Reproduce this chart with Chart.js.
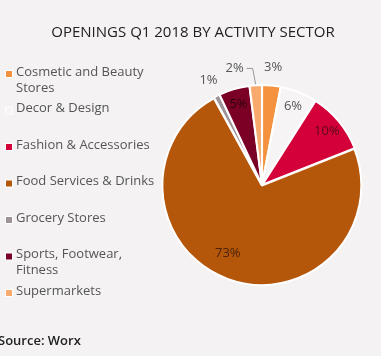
<!DOCTYPE html>
<html><head><meta charset="utf-8">
<script src="https://cdn.jsdelivr.net/npm/chart.js@4.4.1/dist/chart.umd.min.js"></script>
<style>
html,body{margin:0;padding:0;background:#f4f2f3;}
#wrap{position:relative;width:381px;height:356px;}
</style></head>
<body><div id="wrap"><canvas id="c" width="381" height="356"></canvas></div>
<script>
const categories = [["Cosmetic and Beauty","Stores"],["Decor & Design"],["Fashion & Accessories"],["Food Services & Drinks"],["Grocery Stores"],["Sports, Footwear,","Fitness"],["Supermarkets"]];
const values = [3, 6, 10, 73, 1, 5, 2];
const pctLabels = ["3%","6%","10%","73%","1%","5%","2%"];
const colors = ["#f5923f","#f6f4f5","#d3003a","#b5570a","#9d9398","#7a0026","#f8a96c"];
const labelColors = ["#555","#555","#5a0a1c","#4a2208","#555","#2e000c","#555"];
const titleText = "OPENINGS Q1 2018 BY ACTIVITY SECTOR";
const sourceText = "Source: Worx";
const FONT = "'Open Sans', sans-serif";

const overlay = {
  id:'overlay',
  afterDraw(chart){
    const ctx = chart.ctx;
    ctx.save();
    ctx.fillStyle = "#222";
    ctx.font = "15px " + FONT;
    ctx.textAlign = "center"; ctx.textBaseline = "middle";
    ctx.fillText(titleText, 193, 33);
    ctx.textAlign = "left";
    ctx.font = "600 13px " + FONT;
    ctx.fillStyle = "#222";
    ctx.fillText(sourceText, -2, 341);
    ctx.font = "13px " + FONT;
    categories.forEach((lines, i) => {
      const y = 72 + i * 36.5;
      ctx.fillStyle = "#ffffff";
      ctx.fillRect(5, y - 2, 8, 8);
      ctx.fillStyle = colors[i];
      ctx.fillRect(6, y - 1, 6, 6);
      ctx.fillStyle = "#555";
      lines.forEach((t, j) => ctx.fillText(t, 16, y + j * 16));
    });
    const meta = chart.getDatasetMeta(0);
    meta.data.forEach((arc, i) => {
      const p = arc.getProps(['x','y','startAngle','endAngle','outerRadius'], true);
      let mid = (p.startAngle + p.endAngle) / 2;
      const small = values[i] < 4;
      const big = values[i] > 50;
      if (big) mid += 0.12;
      const f = small ? 1.19 : (big ? 0.77 : 0.85);
      let lx = p.x + Math.cos(mid) * p.outerRadius * f;
      let ly = p.y + Math.sin(mid) * p.outerRadius * f;
      if (i === values.length - 1) {
        const ex = p.x + Math.cos(mid) * p.outerRadius * 1.02;
        const ey = p.y + Math.sin(mid) * p.outerRadius * 1.02;
        const nx = lx - 20, ny = ly + 1;
        ctx.strokeStyle = "#999"; ctx.lineWidth = 1;
        ctx.beginPath(); ctx.moveTo(ex, ey); ctx.lineTo(ex - 3, ny); ctx.lineTo(nx + 12, ny); ctx.stroke();
        lx = nx; ly = ny;
      }
      ctx.fillStyle = labelColors[i];
      ctx.font = "13px " + FONT;
      ctx.textAlign = "center";
      ctx.fillText(pctLabels[i], lx, ly);
    });
    ctx.restore();
  }
};

new Chart(document.getElementById('c'), {
  type: 'pie',
  data: { labels: categories.map(l => l.join(' ')), datasets: [{ data: values, backgroundColor: colors, borderColor: "#ffffff", borderWidth: 2, offset: 2 }] },
  options: {
    responsive: false, animation: false,
    layout: { padding: { left: 161, right: 18, top: 84, bottom: 70 } },
    plugins: { legend: { display: false }, tooltip: { enabled: false }, title: { display: false } }
  },
  plugins: [overlay]
});
</script></body></html>
